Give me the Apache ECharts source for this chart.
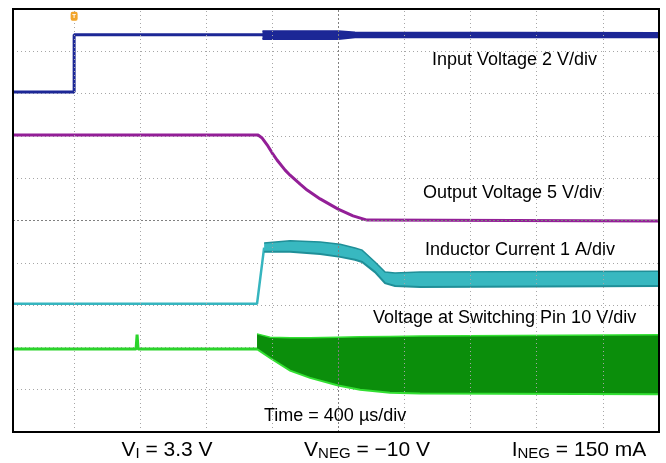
<!DOCTYPE html>
<html>
<head>
<meta charset="utf-8">
<script src="https://cdn.jsdelivr.net/npm/echarts@6/dist/echarts.min.js"></script>
<style>
  html, body { margin: 0; padding: 0; background: #fff; }
  #chart { width: 666px; height: 463px; }
</style>
</head>
<body>
<div id="chart"></div>
<script>
// time in µs (400 µs/div), vertical in screen divisions (0 = centre line)
const timeRange = [-370, 3540]
const divRange = [-5, 5]
const timeGrid = [0, 400, 800, 1200, 2000, 2400, 2800, 3200]
const timeCenter = [1600]
const divCenter = [0]
const trigger = [0, 4.83]

// input voltage, 2 V/div
const vinTime = [-370, 0, 0, 3540]
const vinLevel = [3.04, 3.04, 4.39, 4.39]
const vinNoiseTime = [1140, 1600, 1700, 3540]
const vinNoiseTop = [4.48, 4.48, 4.45, 4.44]
const vinNoiseBottom = [4.29, 4.29, 4.33, 4.33]

// output voltage, 5 V/div
const voutTime = [-370, 1113, 1138, 1168, 1198, 1228, 1277, 1307, 1368, 1410, 1489, 1598, 1688, 1773, 3540]
const voutLevel = [2.02, 2.02, 1.95, 1.79, 1.6, 1.43, 1.19, 1.07, 0.86, 0.72, 0.51, 0.27, 0.11, 0.01, -0.01]

// inductor current, 1 A/div
const ilTime = [-370, 1107, 1150]
const ilLevel = [-1.97, -1.97, -0.64]
const ilBandTime = [1150, 1307, 1489, 1610, 1700, 1743, 1821, 1882, 1942, 2094, 3540]
const ilBandTop = [-0.53, -0.48, -0.51, -0.56, -0.65, -0.7, -0.98, -1.22, -1.24, -1.22, -1.2]
const ilBandBottom = [-0.74, -0.74, -0.79, -0.86, -0.93, -0.98, -1.22, -1.48, -1.55, -1.57, -1.55]

// switching pin voltage, 10 V/div
const swTime = [-370, 375, 381, 387, 1107]
const swLevel = [-3.04, -3.04, -2.7, -3.04, -3.04]
const swBandTime = [1107, 1186, 1307, 1428, 1598, 1731, 1912, 2094, 3540]
const swBandTop = [-2.68, -2.76, -2.77, -2.77, -2.76, -2.75, -2.74, -2.73, -2.7]
const swBandBottom = [-3.04, -3.25, -3.55, -3.72, -3.9, -4.0, -4.07, -4.09, -4.11]

const FONT = '"Liberation Sans", Arial, sans-serif'
const GRID_DOT = { color: '#a6a6a6', width: 1, type: [1, 3] }
const GRID_CENTER = { color: '#808080', width: 1, type: [2, 2] }

const zip = (xs, ys) => xs.map((x, i) => [x, ys[i]])

// trace drawn as a simple line
const traceLine = (data, color, width) => ({
  type: 'line',
  data,
  showSymbol: false,
  silent: true,
  lineStyle: { color, width },
  z: 3
})

// noisy trace drawn as a filled band between top and bottom envelopes
const traceBand = (time, top, bottom, fill, edge) => ({
  type: 'custom',
  silent: true,
  data: [[time[0], top[0]]],
  z: 4,
  renderItem: (params, api) => {
    const upper = time.map((t, i) => api.coord([t, top[i]]))
    const lower = time.map((t, i) => api.coord([t, bottom[i]]))
    return {
      type: 'group',
      children: [
        { type: 'polygon', shape: { points: upper.concat(lower.slice().reverse()) }, style: { fill } },
        { type: 'polyline', shape: { points: upper }, style: { stroke: edge, lineWidth: 1.5, fill: null } },
        { type: 'polyline', shape: { points: lower }, style: { stroke: edge, lineWidth: 2, fill: null } }
      ]
    }
  }
})

// subscript label style under the screen
const condRich = {
  m: { fontFamily: FONT, fontSize: 21, color: '#000', lineHeight: 21, verticalAlign: 'top' },
  s: { fontFamily: FONT, fontSize: 15, color: '#000', lineHeight: 15, verticalAlign: 'bottom', padding: [9, 0, 0, 0] }
}

const chart = echarts.init(document.getElementById('chart'))

const option = {
  animation: false,
  backgroundColor: '#fff',
  grid: {
    left: 13,
    right: 7,
    top: 9,
    bottom: 31,
    show: true,
    borderColor: '#000',
    borderWidth: 2,
    z: 10
  },
  xAxis: {
    type: 'value',
    min: timeRange[0],
    max: timeRange[1],
    axisLine: { show: false },
    axisTick: { show: false },
    axisLabel: { show: false },
    splitLine: { show: false }
  },
  yAxis: {
    type: 'value',
    min: divRange[0],
    max: divRange[1],
    interval: 1,
    axisLine: { show: false },
    axisTick: { show: false },
    axisLabel: { show: false },
    splitLine: { lineStyle: GRID_DOT }
  },
  series: [
    // scope graticule
    {
      type: 'line',
      data: [[timeRange[0], 0]],
      showSymbol: false,
      silent: true,
      lineStyle: { width: 0 },
      z: 1,
      markLine: {
        silent: true,
        symbol: 'none',
        label: { show: false },
        animation: false,
        data: timeGrid.map((t) => ({ xAxis: t, lineStyle: GRID_DOT }))
          .concat(timeCenter.map((t) => ({ xAxis: t, lineStyle: GRID_CENTER })))
          .concat(divCenter.map((d) => ({ yAxis: d, lineStyle: GRID_CENTER })))
      }
    },
    // input voltage
    Object.assign(traceLine(zip(vinTime, vinLevel), '#1c2796', 3), {
      markPoint: {
        silent: true,
        symbol: 'roundRect',
        symbolSize: [7, 9],
        itemStyle: { color: '#f2a52a' },
        label: { show: true, formatter: 'T', fontSize: 6, color: '#fff', fontWeight: 'bold' },
        data: [{ coord: trigger }]
      }
    }),
    traceBand(vinNoiseTime, vinNoiseTop, vinNoiseBottom, '#1c2796', '#1c2796'),
    // output voltage
    traceLine(zip(voutTime, voutLevel), '#931f97', 3),
    // inductor current
    traceLine(zip(ilTime, ilLevel), '#36b5bf', 2.5),
    traceBand(ilBandTime, ilBandTop, ilBandBottom, '#38b8c0', '#1f8f98'),
    // switching pin voltage
    traceLine(zip(swTime, swLevel), '#2bd42b', 3),
    traceBand(swBandTime, swBandTop, swBandBottom, '#0b8e0b', '#33e033')
  ],
  graphic: [
    { type: 'text', x: 432, y: 60, z: 20, style: { text: 'Input Voltage 2 V/div', font: '18px ' + FONT, fill: '#000', verticalAlign: 'middle' } },
    { type: 'text', x: 423, y: 193, z: 20, style: { text: 'Output Voltage 5 V/div', font: '18px ' + FONT, fill: '#000', verticalAlign: 'middle' } },
    { type: 'text', x: 425, y: 250, z: 20, style: { text: 'Inductor Current 1 A/div', font: '18px ' + FONT, fill: '#000', verticalAlign: 'middle' } },
    { type: 'text', x: 373, y: 318, z: 20, style: { text: 'Voltage at Switching Pin 10 V/div', font: '18px ' + FONT, fill: '#000', verticalAlign: 'middle' } },
    { type: 'text', x: 264, y: 416, z: 20, style: { text: 'Time = 400 µs/div', font: '18px ' + FONT, fill: '#000', verticalAlign: 'middle' } },
    // operating conditions under the screen
    { type: 'text', x: 167, y: 440, z: 20, style: { text: '{m|V}{s|I}{m| = 3.3 V}', align: 'center', verticalAlign: 'top', rich: condRich } },
    { type: 'text', x: 367, y: 440, z: 20, style: { text: '{m|V}{s|NEG}{m| = \u221210 V}', align: 'center', verticalAlign: 'top', rich: condRich } },
    { type: 'text', x: 579, y: 440, z: 20, style: { text: '{m|I}{s|NEG}{m| = 150 mA}', align: 'center', verticalAlign: 'top', rich: condRich } }
  ]
}

chart.setOption(option)
</script>
</body>
</html>
